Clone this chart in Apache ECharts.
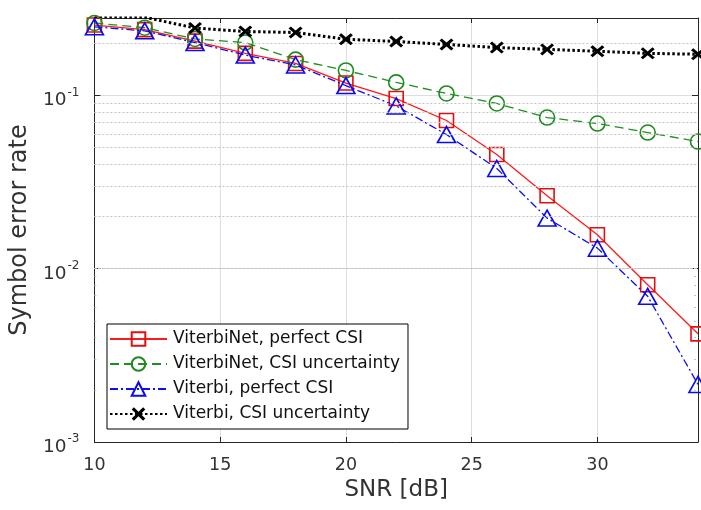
<!DOCTYPE html>
<html>
<head>
<meta charset="utf-8">
<script src="https://cdn.jsdelivr.net/npm/echarts@6/dist/echarts.min.js"></script>
<style>
html,body{margin:0;padding:0;background:#fff;}
#chart{width:701px;height:510px;}
</style>
</head>
<body>
<div id="chart"></div>
<script>
// ---- data ----
const snr = [10, 12, 14, 16, 18, 20, 22, 24, 26, 28, 30, 32, 34];
const viterbiNetPerfect   = [0.255, 0.240, 0.206, 0.175, 0.153, 0.118, 0.096, 0.0717, 0.0456, 0.0264, 0.0157, 0.00808, 0.00421];
const viterbiNetUncertain = [0.262, 0.246, 0.212, 0.202, 0.161, 0.1395, 0.119, 0.1027, 0.0899, 0.0746, 0.0689, 0.0611, 0.0542];
const viterbiPerfect      = [0.249, 0.236, 0.202, 0.171, 0.150, 0.114, 0.087, 0.0595, 0.0379, 0.0196, 0.01315, 0.00693, 0.00215];
const viterbiUncertain    = [0.286, 0.283, 0.245, 0.234, 0.231, 0.211, 0.205, 0.197, 0.189, 0.1845, 0.180, 0.175, 0.173];
const seriesNames = ['ViterbiNet, perfect CSI', 'ViterbiNet, CSI uncertainty', 'Viterbi, perfect CSI', 'Viterbi, CSI uncertainty'];
const xTicks = [10, 15, 20, 25, 30];
const yMin = 0.001, yMax = 0.28, xMin = 10, xMax = 34;
const minorY = [0.002,0.003,0.004,0.005,0.006,0.007,0.008,0.009,
                0.02,0.03,0.04,0.05,0.06,0.07,0.08,0.09,0.2];

const FONT = "'DejaVu Sans', 'Liberation Sans', Arial, sans-serif";
const pair = (ys) => snr.map((x, i) => [x, ys[i]]);
const xSymbol = 'path://M0,1.6 L1.6,0 L5,3.4 L8.4,0 L10,1.6 L6.6,5 L10,8.4 L8.4,10 L5,6.6 L1.6,10 L0,8.4 L3.4,5 Z';

const chart = echarts.init(document.getElementById('chart'), null, {renderer: 'canvas'});

const logLabel = (v) => {
  const l = Math.log10(v);
  const e = Math.round(l);
  if (Math.abs(l - e) > 1e-6) return '';
  return '{b|10}{s|' + e + '}';
};

const minorGridLines = minorY.map(v => ({yAxis: v}));
const minorTicks = [];
minorY.forEach(v => {
  minorTicks.push([{coord: [xMin, v]}, {coord: [xMin + 0.16, v]}]);
  minorTicks.push([{coord: [xMax - 0.16, v]}, {coord: [xMax, v]}]);
});

const option = {
  backgroundColor: '#fff',
  animation: false,
  textStyle: {fontFamily: FONT},
  grid: {left: 92, right: 3, top: 18, bottom: 68, containLabel: false},
  legend: {
    data: seriesNames,
    orient: 'vertical',
    left: 107, top: 324,
    backgroundColor: '#fff',
    borderColor: '#000', borderWidth: 1,
    padding: [5, 8, 5, 2],
    itemGap: 5,
    itemWidth: 57, itemHeight: 17,
    textStyle: {fontFamily: FONT, fontSize: 17, lineHeight: 20, color: '#111', padding: [0, 0, 0, 1]},
    selectedMode: false
  },
  xAxis: [{
    type: 'value', min: xMin, max: xMax, interval: 5,
    position: 'bottom',
    axisLine: {show: true, onZero: false, lineStyle: {color: '#262626', width: 1}},
    axisTick: {show: true, inside: true, length: 5, lineStyle: {color: '#262626'}},
    axisLabel: {fontFamily: FONT, fontSize: 17.5, color: '#333', margin: 14,
      formatter: v => (xTicks.indexOf(v) >= 0 ? String(v) : '')},
    splitLine: {show: true, lineStyle: {color: '#dedede', width: 1}},
    name: 'SNR [dB]', nameLocation: 'middle', nameGap: 35,
    nameTextStyle: {fontFamily: FONT, fontSize: 23, color: '#333'}
  }, {
    type: 'value', min: xMin, max: xMax, interval: 5,
    position: 'top',
    axisLine: {show: true, onZero: false, lineStyle: {color: '#262626', width: 1}},
    axisTick: {show: true, inside: true, length: 5, lineStyle: {color: '#262626'}},
    axisLabel: {show: false}, splitLine: {show: false}
  }],
  yAxis: [{
    type: 'log', logBase: 10, min: yMin, max: yMax,
    position: 'left',
    axisLine: {show: true, onZero: false, lineStyle: {color: '#262626', width: 1}},
    axisTick: {show: true, inside: true, length: 6, lineStyle: {color: '#262626'}},
    axisLabel: {
      formatter: logLabel, margin: 15,
      rich: {
        b: {fontFamily: FONT, fontSize: 18.5, lineHeight: 18, color: '#333', padding: [10, 0, 0, 0]},
        s: {fontFamily: FONT, fontSize: 12, lineHeight: 12, color: '#333', padding: [5, 0, 11, 1]}
      }
    },
    splitLine: {show: true, lineStyle: {color: '#dedede', width: 1}},
    name: 'Symbol error rate', nameLocation: 'middle', nameGap: 59, nameRotate: 90,
    nameTextStyle: {fontFamily: FONT, fontSize: 24, color: '#333'}
  }, {
    type: 'log', logBase: 10, min: yMin, max: yMax,
    position: 'right',
    axisLine: {show: true, onZero: false, lineStyle: {color: '#262626', width: 1}},
    axisTick: {show: true, inside: true, length: 6, lineStyle: {color: '#262626'}},
    axisLabel: {show: false}, splitLine: {show: false}
  }],
  series: [
    {
      name: '_grid', type: 'line', data: [], z: 0, silent: true,
      markLine: {
        silent: true, symbol: 'none', animation: false,
        label: {show: false},
        lineStyle: {color: '#c4c4c4', type: [2, 2], width: 1},
        data: minorGridLines.concat(minorTicks)
      }
    },
    {
      name: seriesNames[0], type: 'line', data: pair(viterbiNetPerfect),
      symbol: 'rect', symbolSize: 14, z: 3,
      lineStyle: {color: '#ff1a1a', width: 1.3, type: 'solid'},
      itemStyle: {color: 'rgba(255,255,255,0)', borderColor: '#e01010', borderWidth: 1.6}
    },
    {
      name: seriesNames[1], type: 'line', data: pair(viterbiNetUncertain),
      symbol: 'circle', symbolSize: 15, z: 3,
      lineStyle: {color: '#1f8f1f', width: 1.3, type: [9, 5]},
      itemStyle: {color: 'rgba(255,255,255,0)', borderColor: '#1f8a1f', borderWidth: 1.6}
    },
    {
      name: seriesNames[2], type: 'line', data: pair(viterbiPerfect),
      symbol: 'triangle', symbolSize: [18, 16], z: 4,
      lineStyle: {color: '#1010ee', width: 1.3, type: [8, 3, 2, 3]},
      itemStyle: {color: 'rgba(255,255,255,0)', borderColor: '#0a0aee', borderWidth: 1.6}
    },
    {
      name: seriesNames[3], type: 'line', data: pair(viterbiUncertain),
      symbol: xSymbol, symbolSize: [14, 12], z: 5,
      lineStyle: {color: '#000', width: 3, type: [2.5, 2.5]},
      itemStyle: {color: '#000', borderWidth: 0}
    }
  ]
};
chart.setOption(option);
</script>
</body>
</html>
